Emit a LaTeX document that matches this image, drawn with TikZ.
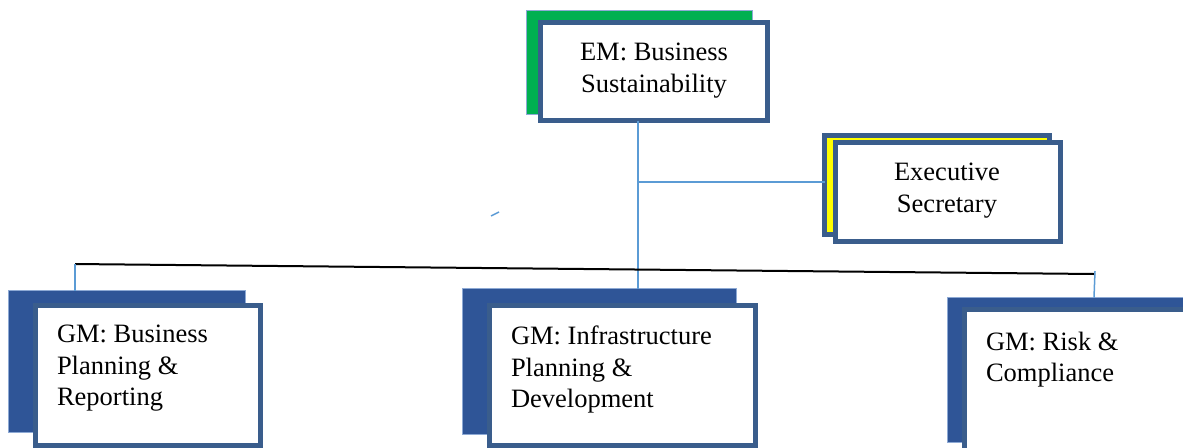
\documentclass[tikz,border=0pt]{standalone}
\usepackage{fontspec}
\setmainfont{Liberation Serif}
\usetikzlibrary{positioning}

\definecolor{boxline}{HTML}{3A5D8C}
\definecolor{backblue}{HTML}{2F5597}
\definecolor{rimblue}{HTML}{8DA9D4}
\definecolor{linkblue}{HTML}{5B9BD5}
\definecolor{emgreen}{HTML}{00B050}
\definecolor{esyellow}{HTML}{FFFF00}

\begin{document}
\begin{tikzpicture}[x=0.5pt, y=-0.5pt,
    every node/.style={inner sep=0pt, outer sep=0pt},
    frontbox/.style={draw=boxline, line width=2.5pt, fill=white},
    backbox/.style={draw=rimblue, line width=0.5pt, fill=backblue},
    boxtext/.style={font=\fontsize{13.25pt}{15.75pt}\selectfont},
    link/.style={draw=linkblue, line width=0.75pt},
    bar/.style={draw=black, line width=1pt}]
  \useasboundingbox (0,0) rectangle (1183,447);
  \clip (0,0) rectangle (1183,447);

  % top of the chart
  \node[backbox, fill=emgreen, minimum width=113pt, minimum height=52pt] (emback) at (639.5,62.5) {};
  \node[frontbox, minimum width=113.5pt, minimum height=49pt] (em) at (654,71.5) {};
  \node[boxtext, align=center, anchor=north] (emtext) at (654,43) {EM: Business\\Sustainability};

  % staff post on the side
  \node[frontbox, fill=esyellow, minimum width=112.5pt, minimum height=49.5pt] (esback) at (937,185) {};
  \node[frontbox, minimum width=112.5pt, minimum height=49.5pt] (es) at (948,192) {};
  \node[boxtext, align=center, anchor=north] (estext) at (947,163) {Executive\\Secretary};

  % the three general managers
  \node[backbox, minimum width=118.5pt, minimum height=71pt] (bprback) at (127,361.5) {};
  \node[frontbox, minimum width=112.5pt, minimum height=70pt] (bpr) at (148,375.5) {};
  \node[boxtext, align=left, anchor=north west] (bprtext) at (57,325) {GM: Business\\Planning \&\\Reporting};

  \node[backbox, minimum width=137pt, minimum height=73pt] (ipdback) at (599.5,361.5) {};
  \node[frontbox, minimum width=133pt, minimum height=70pt] (ipd) at (622.5,375.5) {};
  \node[boxtext, align=left, anchor=north west] (ipdtext) at (511,326) {GM: Infrastructure\\Planning \&\\Development};

  \node[backbox, minimum width=126pt, minimum height=72.5pt] (rcback) at (1073.5,370) {};
  \node[frontbox, minimum width=121.5pt, minimum height=74pt] (rc) at (1086,383.5) {};
  \node[boxtext, align=left, anchor=north west] (rctext) at (986,332) {GM: Risk \&\\Compliance};

  % connectors
  \coordinate (spine) at (638,0);
  \coordinate (barL) at (75,264);
  \coordinate (barR) at (1095,274);
  \draw[link] (spine |- em.south) -- (spine |- ipdback.north);
  \draw[link] ([yshift=1.5pt]spine |- esback.west) -- ([yshift=1.5pt]esback.west);
  \draw[bar] (barL) -- (barR);
  \draw[link] (barL) -- (barL |- bprback.north);
  \draw[link] ([yshift=1.5pt]barR) -- ([xshift=-0.5pt]barR |- rcback.north);
  \draw[link] (491,216) -- (499,212);
\end{tikzpicture}
\end{document}
